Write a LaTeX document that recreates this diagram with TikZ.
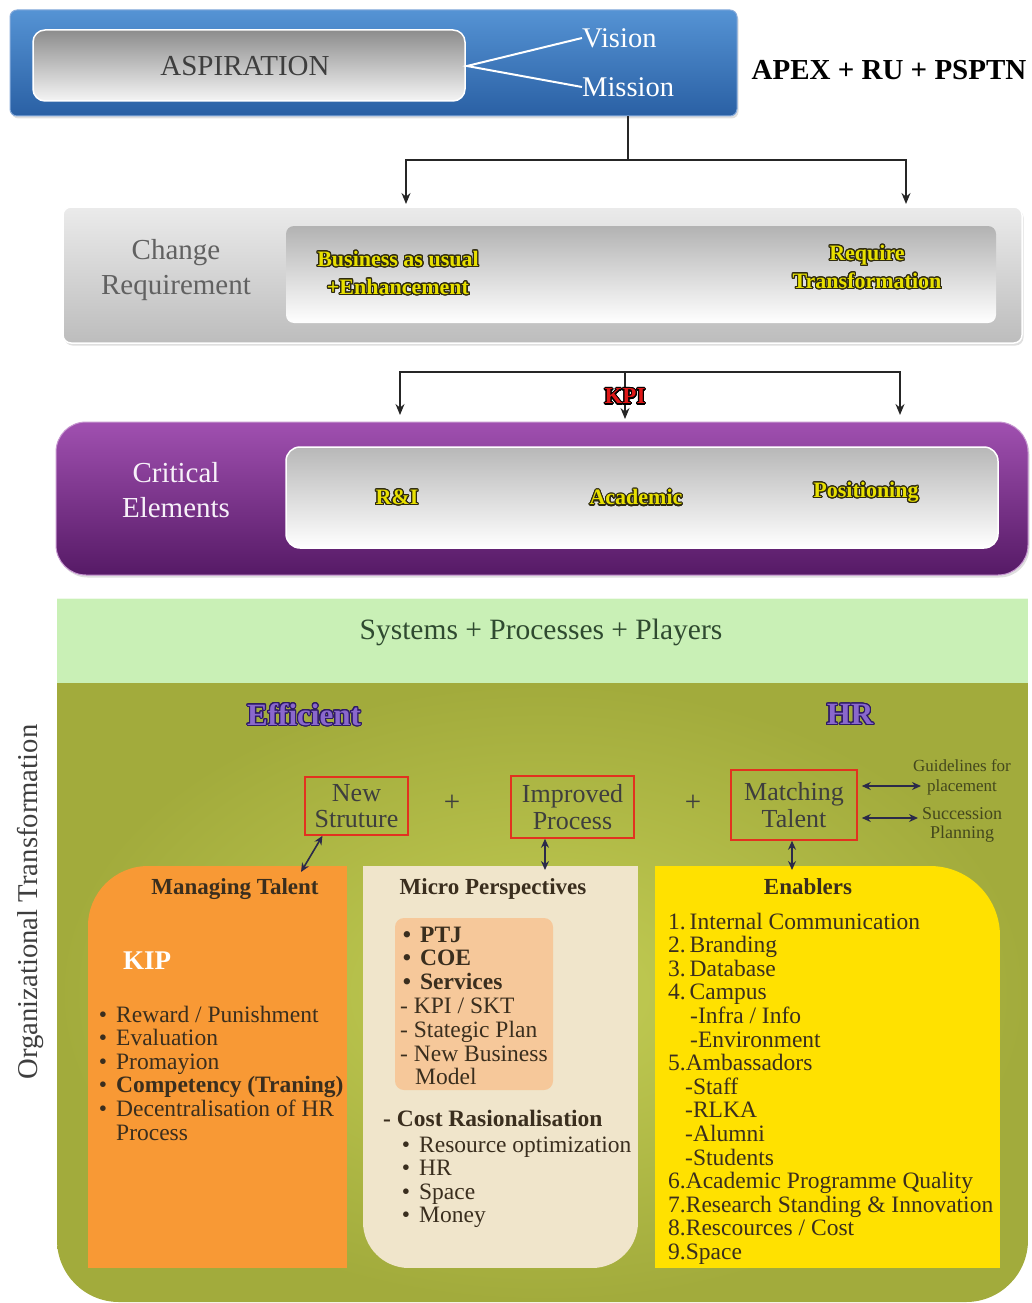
\documentclass[tikz,border=0pt]{standalone}
\usepackage{fontspec}
\setmainfont{Liberation Serif}
\usepackage{contour}
\contourlength{1.1pt}
\contournumber{24}
\usetikzlibrary{arrows.meta,shadows}

\definecolor{bluetop}{HTML}{5593D4}
\definecolor{bluemid}{HTML}{3776BE}
\definecolor{bluebot}{HTML}{2A60A4}
\definecolor{blueedge}{HTML}{86AADA}
\definecolor{purtop}{HTML}{A050B0}
\definecolor{purmid}{HTML}{7A2E8C}
\definecolor{purbot}{HTML}{561A66}
\definecolor{lightgreen}{HTML}{C9F0B6}
\definecolor{olivein}{HTML}{C3CD54}
\definecolor{oliveout}{HTML}{A2AB3C}
\definecolor{orangebox}{HTML}{F89935}
\definecolor{beige}{HTML}{F0E5CB}
\definecolor{peach}{HTML}{F6C89A}
\definecolor{yellowbox}{HTML}{FFE100}
\definecolor{bodytext}{HTML}{3A2E1E}
\definecolor{greytext}{HTML}{3E3E3E}
\definecolor{redb}{HTML}{E2321F}
\definecolor{navyd}{HTML}{2B2A4A}
\definecolor{ylw}{HTML}{E8E000}
\definecolor{outdark}{HTML}{2E2A10}
\definecolor{purtext}{HTML}{8A68CC}
\definecolor{purline}{HTML}{2E1A66}
\definecolor{kpired}{HTML}{E01818}
\definecolor{sppgreen}{HTML}{2F4A30}

\begin{document}
\begin{tikzpicture}[x=1pt,y=-1pt,
  conn/.style={draw=black!85, line width=1.4pt},
  arrowc/.style={conn, -{Stealth[length=11pt,width=9pt]}},
  dbl/.style={draw=navyd, line width=1.6pt, {Stealth[length=9pt,width=8pt]}-{Stealth[length=9pt,width=8pt]}},
  band/.style={inner sep=0pt, drop shadow={opacity=0.25,shadow xshift=1.5pt,shadow yshift=-2.5pt}},
  panel/.style={inner sep=0pt},
  redbox/.style={draw=redb, line width=1.5pt, align=center, inner sep=0pt, text=greytext, font=\fontsize{26}{26.5}\selectfont},
  body/.style={anchor=base west, inner sep=0pt, text=bodytext, font=\fontsize{23.5}{23.6}\selectfont},
  bodyb/.style={body, font=\bfseries\fontsize{23.5}{23.6}\selectfont},
  head/.style={anchor=base, inner sep=0pt, text=bodytext, font=\bfseries\fontsize{23}{24}\selectfont},
  outl/.style={inner sep=0pt, align=center, font=\bfseries\fontsize{22}{28}\selectfont},
  big/.style={inner sep=0pt, align=center, font=\fontsize{29}{35}\selectfont}]
\useasboundingbox (0,0) rectangle (1031,1303);

% ---------- Aspiration band ----------
\node[band, rounded corners=7pt, draw=blueedge, line width=1pt,
      top color=bluetop, middle color=bluemid, bottom color=bluebot,
      minimum width=727pt, minimum height=106pt] (aspband) at (373.5,63) {};
\node[panel, rounded corners=12pt, draw=white, line width=1.5pt,
      top color=black!45, middle color=white, bottom color=black!4,
      minimum width=432pt, minimum height=71pt] (asppanel) at (249,65.5) {};
\node[big, text=greytext] (aspiration) at (245,66) {ASPIRATION};
\node[big, text=white, anchor=west, font=\fontsize{28.5}{30}\selectfont] (vision) at (582,38) {Vision};
\node[big, text=white, anchor=west, font=\fontsize{28.5}{30}\selectfont] (mission) at (582,87) {Mission};
\coordinate (vfork) at (467,66);
\draw[white, line width=2pt] (vision.west) -- (vfork) -- (mission.west);
\node[inner sep=0pt, font=\bfseries\fontsize{29}{30}\selectfont] (apex) at (889,70) {APEX + RU + PSPTN};

% ---------- connectors to change requirement ----------
\coordinate (split) at (628,160);
\coordinate (bauTop) at (406,204);
\coordinate (rtTop) at (906,204);
\draw[conn] (aspband.south -| split) -- (split);
\draw[arrowc] (split) -| (bauTop);
\draw[arrowc] (split) -| (rtTop);

% ---------- Change requirement band ----------
\node[band, rounded corners=8pt, draw=white, line width=1.5pt,
      top color=black!8, bottom color=black!26,
      minimum width=959pt, minimum height=136pt] (chgband) at (542.5,275) {};
\node[panel, rounded corners=8pt,
      top color=black!30, middle color=black!6, bottom color=white,
      minimum width=710pt, minimum height=97pt] (chgpanel) at (641,274.5) {};
\node[big, text=black!62] (chgtitle) at (176,270) {Change\\Requirement};
\node[outl, text=ylw] (bau) at (398,273.5) {\contour{outdark}{Business as usual}\\\contour{outdark}{+Enhancement}};
\node[outl, text=ylw] (rt) at (867,267.5) {\contour{outdark}{Require}\\\contour{outdark}{Transformation}};

% ---------- KPI connectors ----------
\coordinate (kpisplit) at (625,372);
\coordinate (riTop) at (400,415);
\coordinate (acTop) at (625,419);
\coordinate (poTop) at (900,415);
\draw[arrowc] (kpisplit) -| (riTop);
\draw[arrowc] (kpisplit) -| (poTop);
\draw[arrowc] (kpisplit) -- (acTop);
\node[outl, text=kpired, font=\bfseries\fontsize{23}{24}\selectfont] (kpi) at (625,397) {\contour{black}{KPI}};

% ---------- Critical elements band ----------
\node[band, rounded corners=30pt, draw=purtop!60!white, line width=1pt,
      top color=purtop, middle color=purmid, bottom color=purbot,
      minimum width=972pt, minimum height=153pt] (critband) at (542,498.5) {};
\node[panel, rounded corners=14pt, draw=white, line width=1.5pt,
      top color=black!28, middle color=white, bottom color=white,
      minimum width=712pt, minimum height=101pt] (critpanel) at (642,497.5) {};
\node[big, text=white!92!purtop] (crittitle) at (176,490) {Critical\\Elements};
\node[outl, text=ylw] (ri) at (397,498) {\contour{outdark}{R\&I}};
\node[outl, text=ylw] (acad) at (636,498) {\contour{outdark}{Academic}};
\node[outl, text=ylw] (pos) at (866,493) {\contour{outdark}{Positioning}};

% ---------- Organizational transformation area ----------
\begin{scope}
  \clip[rounded corners=62pt] (57,600) rectangle (1028,1302);
  \path[inner color=olivein, outer color=oliveout] (57,683) rectangle (1028,1302);
\end{scope}
\fill[lightgreen] (57,598) rectangle (1028,683);
\draw[white!70!lightgreen, line width=1pt] (57,598) -- (1028,598);
\node[big, text=sppgreen, font=\fontsize{29.5}{30}\selectfont] (spp) at (541,632) {Systems + Processes + Players};
\node[big, text=greytext, rotate=90, font=\fontsize{28.7}{30}\selectfont] (orgT) at (30,902) {Organizational Transformation};

\node[outl, text=purtext, font=\bfseries\fontsize{31}{32}\selectfont] (eff) at (304,715) {\contour{purline}{Efficient}};
\node[outl, text=purtext, font=\bfseries\fontsize{31}{32}\selectfont] (hr) at (850,715) {\contour{purline}{HR}};

% three pillars
\node[redbox, minimum width=103pt, minimum height=58pt] (newS) at (356.5,806) {New\\Struture};
\node[redbox, minimum width=123pt, minimum height=62pt] (impP) at (572.5,807) {Improved\\Process};
\node[redbox, minimum width=126pt, minimum height=70pt] (matchT) at (794,805) {Matching\\Talent};
\node[inner sep=0pt, text=greytext, font=\fontsize{29}{30}\selectfont] (plus1) at (452,803) {+};
\node[inner sep=0pt, text=greytext, font=\fontsize{29}{30}\selectfont] (plus2) at (693,803) {+};

\node[inner sep=0pt, align=center, text=black!65!olivein, font=\fontsize{17}{20}\selectfont] (guide) at (962,777) {Guidelines for\\placement};
\node[inner sep=0pt, align=center, text=black!65!olivein, font=\fontsize{18}{19}\selectfont] (succ) at (962,825) {Succession\\Planning};
\coordinate (glEnd) at (921,786);
\coordinate (spEnd) at (918,818);
\draw[dbl, shorten <=4pt] (matchT.east |- glEnd) -- (glEnd);
\draw[dbl, shorten <=4pt] (matchT.east |- spEnd) -- (spEnd);

% ---------- columns ----------
\begin{scope}
  \clip[rounded corners=60pt] (88,866) rectangle (520,1420);
  \fill[orangebox] (88,866) rectangle (347,1268);
\end{scope}
\begin{scope}
  \clip[rounded corners=46pt] (363,790) rectangle (638,1268);
  \fill[beige] (363,866) rectangle (638,1268);
\end{scope}
\fill[peach, rounded corners=9pt] (395,918) rectangle (553,1090);
\begin{scope}
  \clip[rounded corners=70pt] (480,866) rectangle (1000,1420);
  \fill[yellowbox] (655,866) rectangle (1000,1268);
\end{scope}

\coordinate (mtTop) at (301,872);
\coordinate (mpTop) at (545,870);
\coordinate (enTop) at (792,870);
\draw[dbl] ([xshift=-34pt]newS.south) -- (mtTop);
\draw[dbl] (impP.south -| mpTop) -- (mpTop);
\draw[dbl] (matchT.south -| enTop) -- (enTop);

% Managing talent
\node[head] (mtHead) at (235,894) {Managing Talent};
\node[inner sep=0pt, anchor=base, text=white, font=\bfseries\fontsize{27}{28}\selectfont] (kip) at (147,969) {KIP};
\foreach \t [count=\i] in {Reward / Punishment, Evaluation, Promayion, {\bfseries Competency (Traning)}, Decentralisation of HR}
  \node[body] (mt\i) at (116,{1022+23.6*(\i-1)}) {\llap{\textbullet\hspace{9pt}}\t};
\node[body] (mt6) at (116,1140) {Process};

% Micro perspectives
\node[head] (mpHead) at (493,894) {Micro Perspectives};
\foreach \t [count=\i] in {PTJ, COE, Services}
  \node[bodyb] (mpb\i) at (420,{942+23.6*(\i-1)}) {\llap{\textbullet\hspace{9pt}}\t};
\node[body] (mpd1) at (400,1013) {- KPI / SKT};
\node[body] (mpd2) at (400,1037) {- Stategic Plan};
\node[body] (mpd3) at (400,1061) {- New Business};
\node[body] (mpd4) at (415,1084) {Model};
\node[bodyb] (mpCost) at (383,1126) {- Cost Rasionalisation};
\foreach \t [count=\i] in {Resource optimization, HR, Space, Money}
  \node[body] (mpc\i) at (419,{1152+23.6*(\i-1)}) {\llap{\textbullet\hspace{9pt}}\t};

% Enablers
\node[head] (enHead) at (808,894) {Enablers};
\foreach \x/\t [count=\i] in {668/{1.\,Internal Communication}, 668/{2.\,Branding}, 668/{3.\,Database}, 668/{4.\,Campus},
    690/{-Infra / Info}, 690/{-Environment}, 668/{5.Ambassadors}, 685/{-Staff}, 685/{-RLKA}, 685/{-Alumni}, 685/{-Students},
    668/{6.Academic Programme Quality}, 668/{7.Research Standing \& Innovation}, 668/{8.Rescources / Cost}, 668/{9.Space}}
  \node[body] (en\i) at (\x,{929+23.6*(\i-1)}) {\t};

\end{tikzpicture}
\end{document}
